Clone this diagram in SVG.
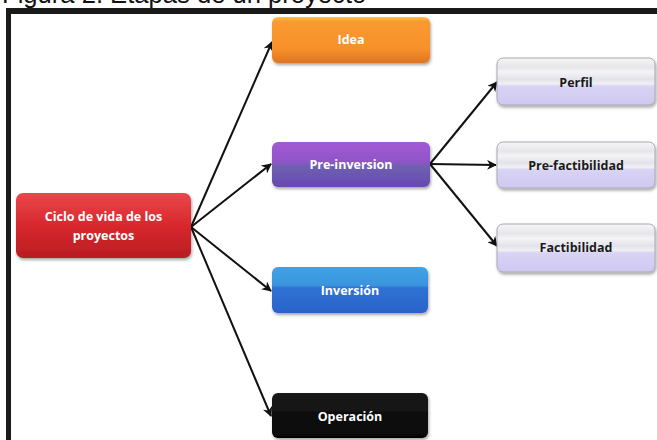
<svg xmlns="http://www.w3.org/2000/svg" width="657" height="440" viewBox="0 0 657 440">
<defs>
<style>
.t{font-family:"Open Sans","Liberation Sans",sans-serif;font-weight:bold;text-anchor:middle;font-size:12.5px}
.w{fill:#ffffff}
.d{fill:#1a1a1a}
.c{stroke:#111;stroke-width:2;fill:none;marker-end:url(#ah)}
</style>
<marker id="ah" viewBox="0 0 10 10" refX="9" refY="5" markerWidth="5" markerHeight="5" orient="auto" markerUnits="strokeWidth">
<path d="M0,0 L10,5 L0,10 L3,5 Z" fill="#111"/>
</marker>
<filter id="sh" x="-10%" y="-10%" width="120%" height="130%">
<feDropShadow dx="1" dy="2" stdDeviation="1.5" flood-color="#000" flood-opacity="0.35"/>
</filter>
<linearGradient id="gr" x1="0" y1="0" x2="0" y2="1">
<stop offset="0" stop-color="#e9474b"/><stop offset="0.5" stop-color="#d8282d"/><stop offset="1" stop-color="#b81d22"/>
</linearGradient>
<linearGradient id="go" x1="0" y1="0" x2="0" y2="1">
<stop offset="0" stop-color="#fcc04a"/><stop offset="0.1" stop-color="#f99a30"/><stop offset="0.7" stop-color="#f7902a"/><stop offset="1" stop-color="#de7420"/>
</linearGradient>
<linearGradient id="gp" x1="0" y1="0" x2="0" y2="1">
<stop offset="0" stop-color="#a35ad6"/><stop offset="0.45" stop-color="#8e55c6"/><stop offset="0.55" stop-color="#6d60b0"/><stop offset="1" stop-color="#6a48b4"/>
</linearGradient>
<linearGradient id="gb" x1="0" y1="0" x2="0" y2="1">
<stop offset="0" stop-color="#3fa3e6"/><stop offset="0.4" stop-color="#3a94de"/><stop offset="0.45" stop-color="#2f72d4"/><stop offset="1" stop-color="#2a62c8"/>
</linearGradient>
<linearGradient id="gk" x1="0" y1="0" x2="0" y2="1">
<stop offset="0" stop-color="#1a1a1a"/><stop offset="1" stop-color="#050505"/>
</linearGradient>
<linearGradient id="gl" x1="0" y1="0" x2="0" y2="1">
<stop offset="0" stop-color="#f6f6f8"/><stop offset="0.2" stop-color="#e6e6ea"/><stop offset="0.3" stop-color="#f4f4f6"/><stop offset="0.45" stop-color="#e2e2ea"/><stop offset="0.55" stop-color="#f0f0f4"/><stop offset="0.6" stop-color="#d8d4f4"/><stop offset="1" stop-color="#cfc8f2"/>
</linearGradient>
</defs>
<rect x="0" y="0" width="657" height="440" fill="#ffffff"/>
<text x="2" y="3" font-family="Liberation Sans, Arial, sans-serif" font-size="25.6" fill="#111">Figura 2. Etapas de un proyecto</text>
<rect x="6" y="8" width="651" height="6" fill="#1a1a1a"/>
<rect x="6" y="8" width="5" height="432" fill="#1a1a1a"/>
<g id="connectors">
<line class="c" x1="191" y1="227" x2="272" y2="42"/>
<line class="c" x1="191" y1="227" x2="271" y2="164"/>
<line class="c" x1="191" y1="227" x2="271" y2="291"/>
<line class="c" x1="191" y1="227" x2="271" y2="416"/>
<line class="c" x1="430" y1="164" x2="497" y2="82"/>
<line class="c" x1="430" y1="164" x2="496" y2="165"/>
<line class="c" x1="430" y1="164" x2="497" y2="246"/>
</g>
<g id="ciclo">
<rect x="16" y="193" width="175" height="65" rx="7" fill="url(#gr)" filter="url(#sh)"/>
<text class="t w" x="103.5" y="221" font-size="13">Ciclo de vida de los</text>
<text class="t w" x="103.5" y="240" font-size="13">proyectos</text>
</g>
<g id="idea">
<rect x="272" y="17" width="158" height="46" rx="6" fill="url(#go)" filter="url(#sh)"/>
<text class="t w" x="351" y="44">Idea</text>
</g>
<g id="preinversion">
<rect x="272" y="142" width="158" height="45" rx="6" fill="url(#gp)" filter="url(#sh)"/>
<text class="t w" x="351" y="169">Pre-inversion</text>
</g>
<g id="inversion">
<rect x="272" y="267" width="156" height="46" rx="6" fill="url(#gb)" filter="url(#sh)"/>
<text class="t w" x="350" y="295">Inversión</text>
</g>
<g id="operacion">
<rect x="272" y="393" width="156" height="45" rx="6" fill="url(#gk)" filter="url(#sh)"/>
<text class="t w" x="350" y="421">Operación</text>
</g>
<g id="perfil">
<rect x="497" y="58" width="158" height="47" rx="6" fill="url(#gl)" stroke="#a8a8b4" stroke-width="1" filter="url(#sh)"/>
<text class="t d" x="576" y="87">Perfil</text>
</g>
<g id="prefactibilidad">
<rect x="497" y="142" width="158" height="46" rx="6" fill="url(#gl)" stroke="#a8a8b4" stroke-width="1" filter="url(#sh)"/>
<text class="t d" x="576" y="170">Pre-factibilidad</text>
</g>
<g id="factibilidad">
<rect x="497" y="224" width="158" height="48" rx="6" fill="url(#gl)" stroke="#a8a8b4" stroke-width="1" filter="url(#sh)"/>
<text class="t d" x="576" y="252">Factibilidad</text>
</g>
</svg>
